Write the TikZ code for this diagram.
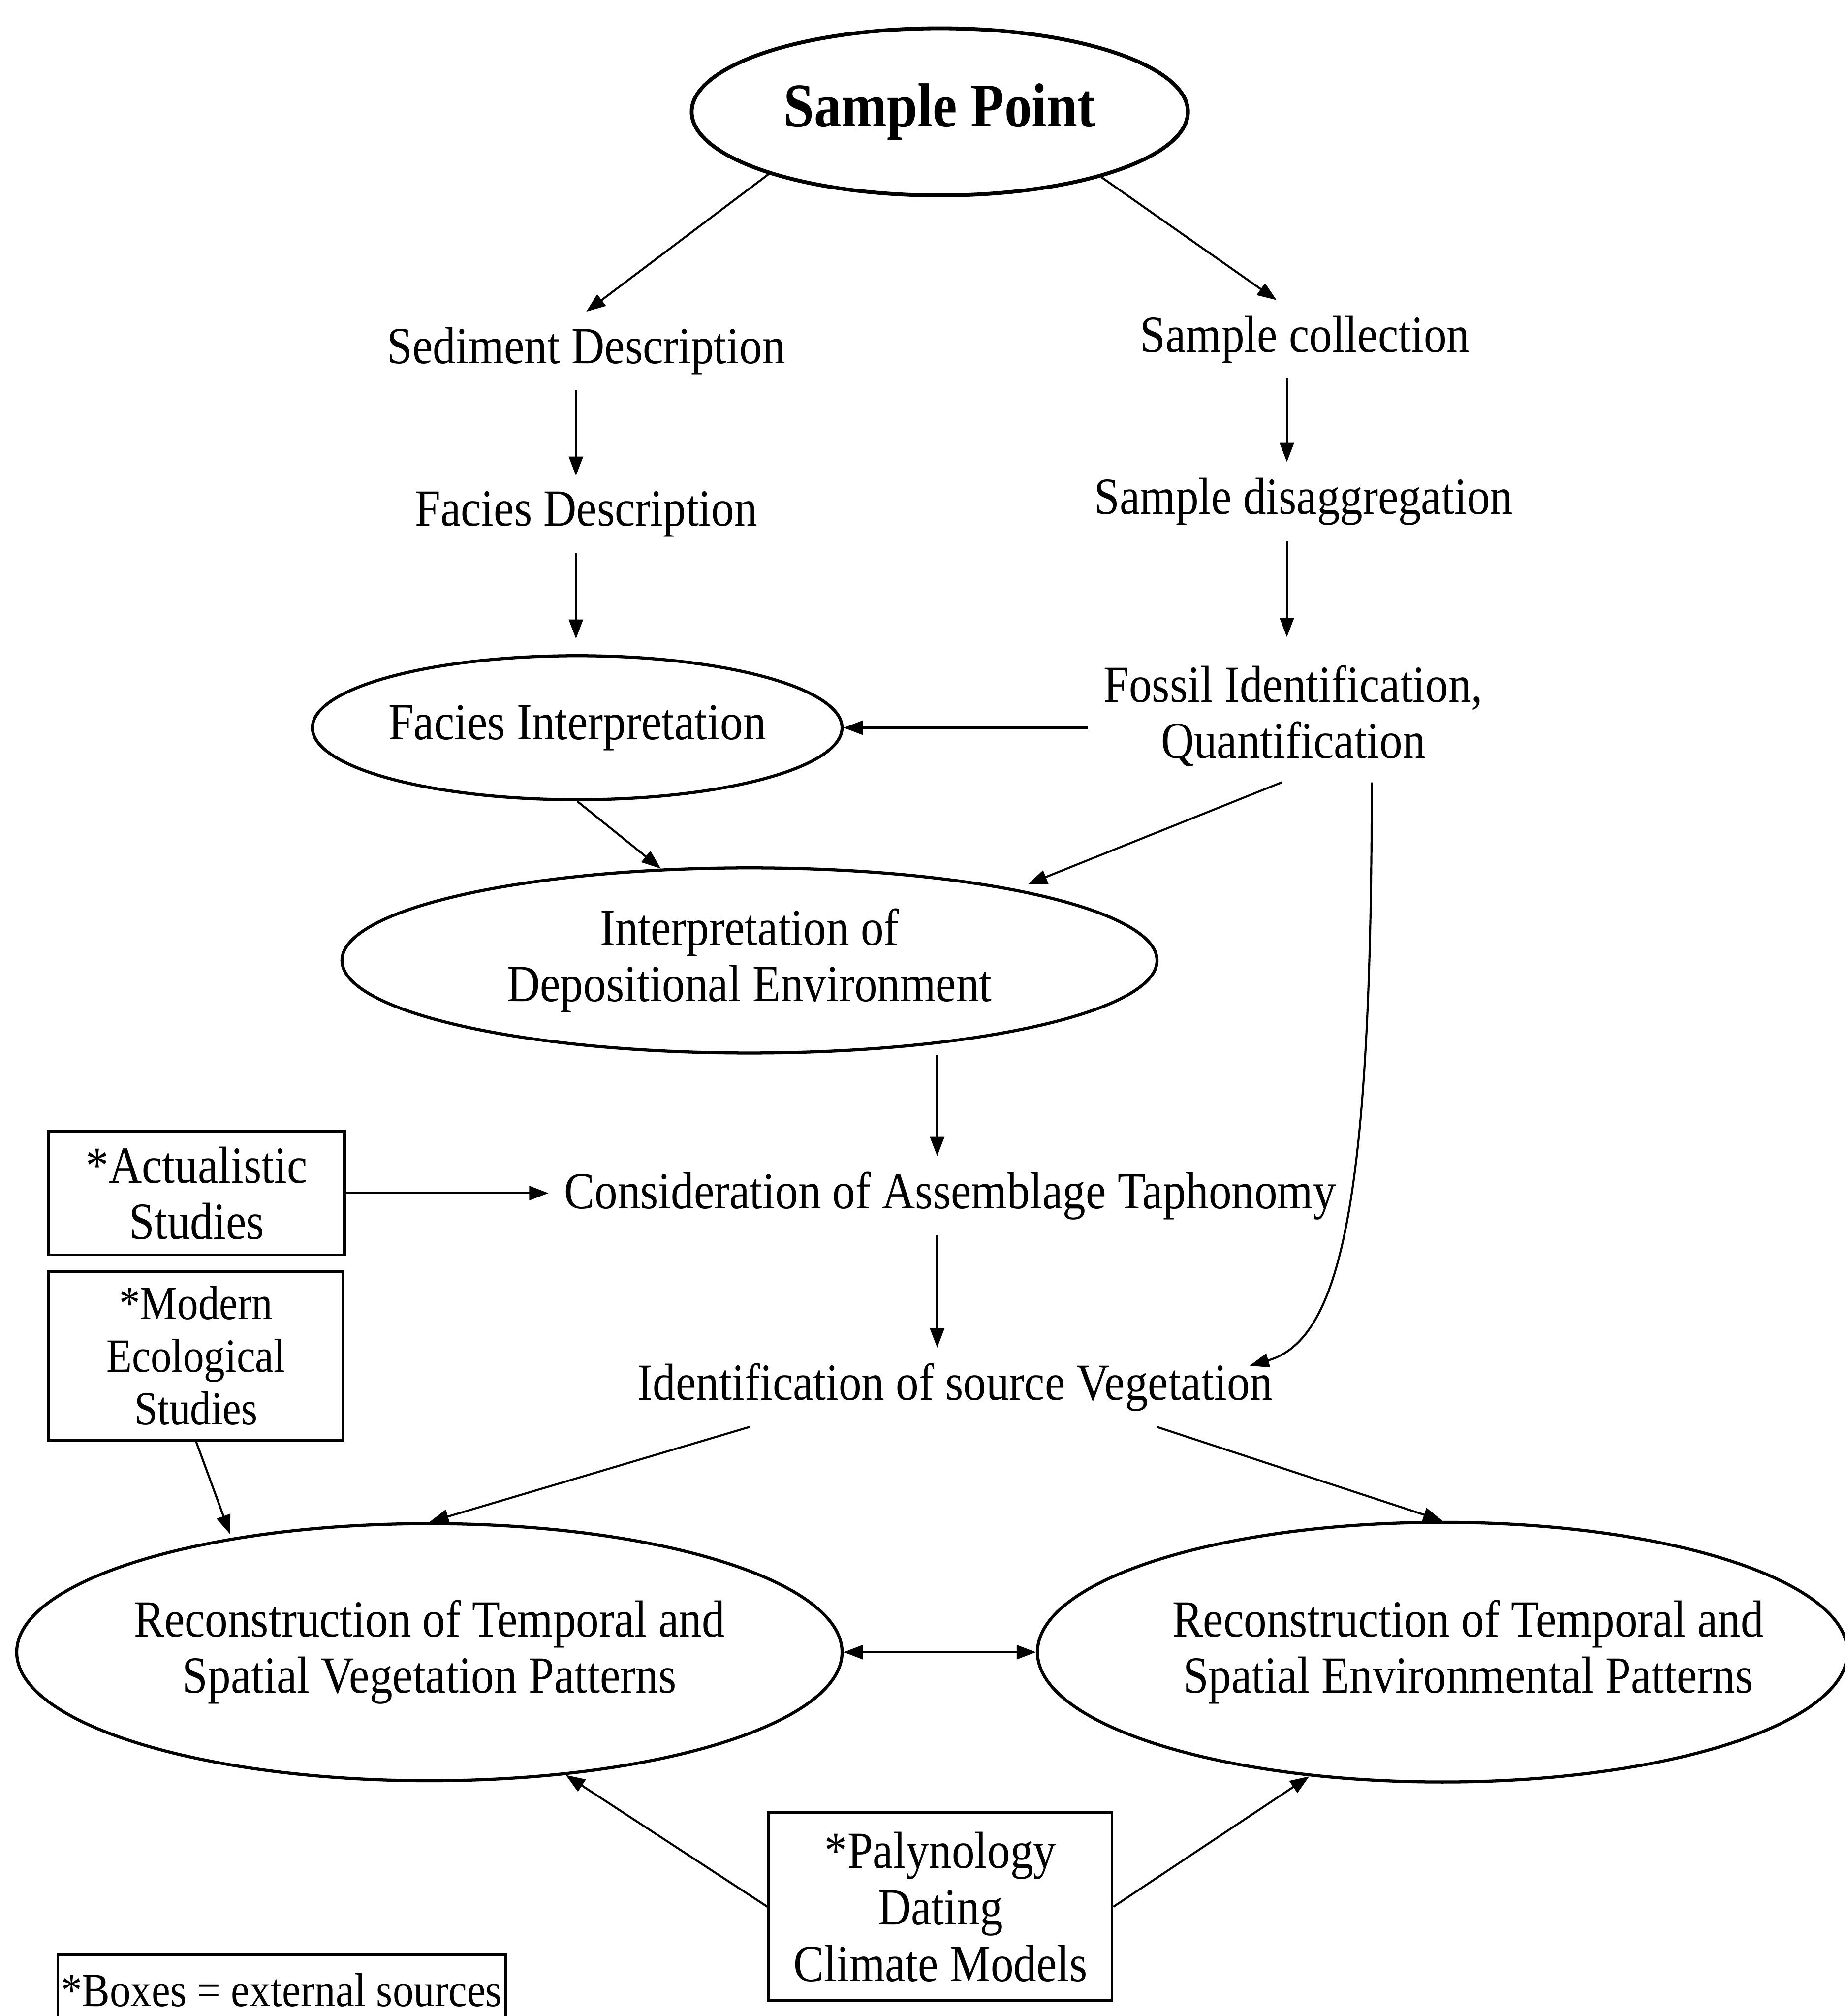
\documentclass[tikz,border=0pt]{standalone}
\usepackage{fontspec}
\setmainfont{Liberation Serif}[FakeStretch=0.88]
\usetikzlibrary{arrows.meta,shapes.geometric}
\newcommand\fmain{\fontsize{40.5}{43.5}\selectfont}
\newcommand\fsmallbox{\fontsize{37}{41}\selectfont}
\newcommand\fbig{\fontsize{48.5}{52}\selectfont\bfseries}
\begin{document}
\begin{tikzpicture}[x=1pt,y=-1pt,
  txt/.style={font=\fmain, align=center, inner sep=12pt},
  ell/.style={ellipse, draw, line width=2.4pt, font=\fmain, align=center, inner sep=0pt},
  srcbox/.style={rectangle, draw, line width=2.2pt, font=\fmain, align=center, inner sep=0pt},
  arr/.style={-{Triangle[length=15pt,width=11pt]}, line width=1.6pt},
  darr/.style={{Triangle[length=15pt,width=11pt]}-{Triangle[length=15pt,width=11pt]}, line width=1.6pt},
]
\useasboundingbox (0,0) rectangle (1435,1568);

% nodes
\node[ell, line width=3pt, font=\fbig, minimum width=386pt, minimum height=130pt] (sp) at (731,87) {Sample Point};
\node[txt] (sed) at (456,273) {Sediment Description};
\node[txt] (scol) at (1015,264) {Sample collection};
\node[txt] (fdesc) at (456,400) {Facies Description};
\node[txt] (sdis) at (1014,390) {Sample disaggregation};
\node[ell, minimum width=412pt, minimum height=112pt, inner xsep=-20pt] (fint) at (449,566) {Facies Interpretation};
\node[txt] (fossil) at (1006,557) {Fossil Identification,\\Quantification};
\node[ell, minimum width=634pt, minimum height=144pt] (dep) at (583,747) {Interpretation of\\Depositional Environment};
\node[txt] (tapho) at (739,930) {Consideration of Assemblage Taphonomy};
\node[srcbox, minimum width=230pt, minimum height=96pt] (act) at (153,928) {*Actualistic\\Studies};
\node[srcbox, font=\fsmallbox, minimum width=229pt, minimum height=131pt] (mod) at (152.5,1054.5) {*Modern\\Ecological\\Studies};
\node[txt] (srcveg) at (743,1079) {Identification of source Vegetation};
\node[ell, minimum width=642pt, minimum height=200pt, inner xsep=-40pt] (veg) at (334,1285) {Reconstruction of Temporal and\\Spatial Vegetation Patterns};
\node[ell, minimum width=630pt, minimum height=202pt, inner xsep=-45pt] (env) at (1122,1285) {\hspace*{40pt}Reconstruction of Temporal and\\\hspace*{40pt}Spatial Environmental Patterns};
\node[srcbox, font=\fontsize{40.5}{44}\selectfont, minimum width=267pt, minimum height=146pt] (paly) at (731.5,1483) {*Palynology\\Dating\\Climate Models};
\node[srcbox, font=\fsmallbox, minimum width=348pt, minimum height=70pt] (legend) at (219,1555) {\raisebox{15pt}{*Boxes = external sources}};

% connectors
\draw[arr] (sp.200) -- (sed.north);
\draw[arr] (sp.338) -- ([xshift=-22pt]scol.north);
\draw[arr] ([xshift=-8pt]sed.south) -- ([xshift=-8pt]fdesc.north);
\draw[arr] ([xshift=-14pt]scol.south) -- ([xshift=-13pt]sdis.north);
\draw[arr] ([xshift=-8pt]fdesc.south) -- ([xshift=-1pt,yshift=12pt]fint.north);
\draw[arr] ([xshift=-13pt]sdis.south) -- ([xshift=-5pt,yshift=10pt]fossil.north);
\draw[arr] (fossil.west |- fint.east) -- (fint.east);
\draw[arr] (fint.south) -- (dep.134);
\draw[arr, shorten >=10pt] ([xshift=-9pt]fossil.south) -- (dep.15);
\draw[arr] ([xshift=-10pt]tapho.north |- dep.south) -- ([xshift=-10pt]tapho.north);
\draw[arr] (act.east) -- (act.east -| tapho.west);
\draw[arr] ([xshift=-10pt]tapho.south) -- ([xshift=-14pt]srcveg.north);
\draw[arr] ([xshift=61pt]fossil.south) .. controls +(0,330) and +(70,-20) .. ([xshift=-30pt,yshift=-14pt]srcveg.north east);
\draw[arr] ([xshift=-160pt]srcveg.south) -- (veg.north);
\draw[arr] ([xshift=157pt]srcveg.south) -- (env.north);
\draw[arr, shorten >=3pt] (mod.south) -- (veg.150);
\draw[darr] (veg.east) -- (env.west);
\draw[arr] (paly.west) -- (veg.318);
\draw[arr] (paly.east) -- (env.223);
\end{tikzpicture}
\end{document}
